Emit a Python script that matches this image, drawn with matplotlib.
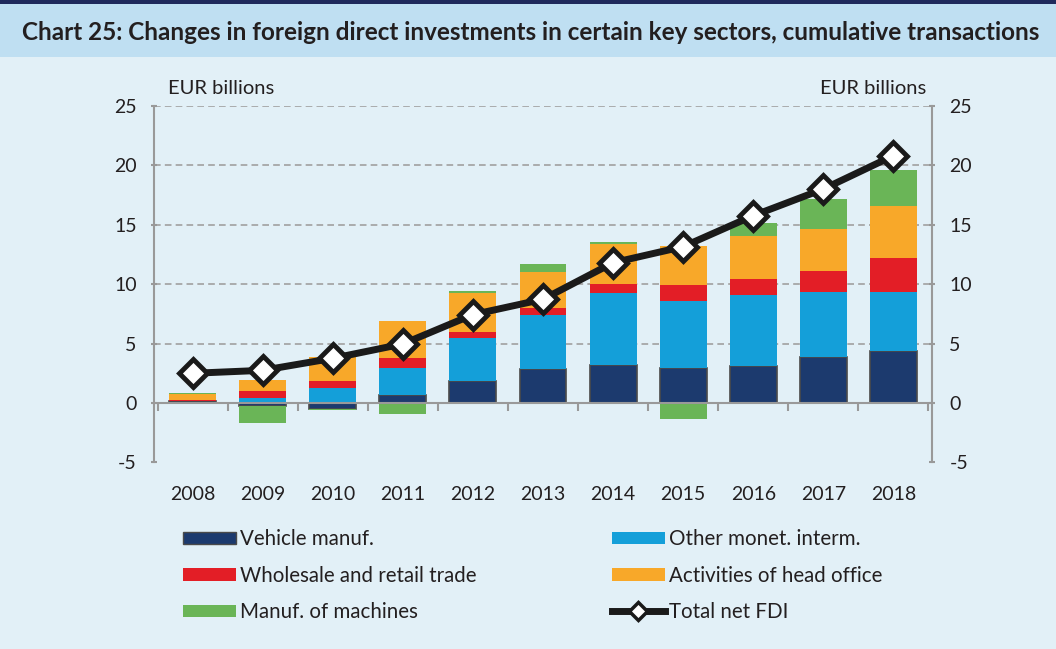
import numpy as np
import matplotlib
matplotlib.use('Agg')
import matplotlib.pyplot as plt
from matplotlib.patches import Patch, Rectangle
from matplotlib.lines import Line2D

plt.rcParams['font.family'] = ['Lato', 'DejaVu Sans']
plt.rcParams['axes.unicode_minus'] = False

years = ['2008', '2009', '2010', '2011', '2012', '2013', '2014', '2015', '2016', '2017', '2018']
vehicle = [0.15, -0.28, -0.5, 0.7, 1.83, 2.89, 3.23, 2.95, 3.09, 3.9, 4.4]
other_monet = [0.0, 0.45, 1.23, 2.24, 3.64, 4.52, 6.03, 5.61, 6.0, 5.44, 4.92]
wholesale = [0.1, 0.56, 0.59, 0.84, 0.51, 0.62, 0.73, 1.37, 1.37, 1.8, 2.91]
head_office = [0.5, 0.93, 2.05, 3.1, 3.25, 3.0, 3.39, 3.31, 3.6, 3.53, 4.33]
machines = [0.12, -1.38, -0.1, -0.95, 0.22, 0.7, 0.14, -1.32, 1.06, 2.5, 3.03]
total_fdi = [2.5, 2.75, 3.76, 4.97, 7.44, 8.73, 11.81, 13.16, 15.77, 18.01, 20.82]

series = [
    ('Vehicle manuf.', vehicle, '#1c3a6e'),
    ('Other monet. interm.', other_monet, '#149fd9'),
    ('Wholesale and retail trade', wholesale, '#e31e26'),
    ('Activities of head office', head_office, '#f8a829'),
    ('Manuf. of machines', machines, '#6ab557'),
]

bg = '#e2f0f7'
txt = '#231f20'
fig = plt.figure(figsize=(10.56, 6.49), dpi=100, facecolor=bg)

# title band
fig.patches.append(Rectangle((0, 1 - 57 / 649), 1, 53 / 649, transform=fig.transFigure,
                             facecolor='#bfdff2', edgecolor='none', zorder=0))
fig.patches.append(Rectangle((0, 1 - 4 / 649), 1, 4 / 649, transform=fig.transFigure,
                             facecolor='#1f2a5c', edgecolor='none', zorder=0))
fig.text(22 / 1056, 1 - 33 / 649, 'Chart 25: Changes in foreign direct investments in certain key sectors, '
         'cumulative transactions', fontsize=17.5, fontweight='bold', color=txt, va='center', ha='left')

ax = fig.add_axes([154 / 1056, 1 - 462.4 / 649, 778 / 1056, (462.4 - 106) / 649])
ax.set_facecolor(bg)

x = np.arange(len(years))
pos_base = np.zeros(len(years))
neg_base = np.zeros(len(years))
for name, vals, col in series:
    vals = np.array(vals)
    base = np.where(vals >= 0, pos_base, neg_base)
    ec = '#4a4a4a' if name == 'Vehicle manuf.' else 'none'
    ax.bar(x, vals, 0.67, bottom=base, color=col, edgecolor=ec, linewidth=1.2, zorder=3)
    pos_base += np.where(vals >= 0, vals, 0)
    neg_base += np.where(vals < 0, vals, 0)

ax.plot(x, total_fdi, color='#1a1a1a', linewidth=5, marker='D', markersize=14,
        markerfacecolor='white', markeredgecolor='#1a1a1a', markeredgewidth=3.5, zorder=5)

ax.set_xlim(-0.55, 10.55)
ax.set_ylim(-5, 25)
ax.set_yticks(np.arange(-5, 26, 5))
for v in range(5, 26, 5):
    ax.axhline(v, color='#a0a0a0', linestyle=(0, (4, 2.5)), linewidth=1.2, zorder=1)

gray = '#999999'
ax.spines['top'].set_visible(False)
ax.spines['bottom'].set_position(('data', 0))
for s in ['left', 'right', 'bottom']:
    ax.spines[s].set_color(gray)
    ax.spines[s].set_linewidth(1.5)
ax.spines['bottom'].set_zorder(4)

ax.set_xticks(x)
ax.set_xticklabels(years)
ax.set_xticks(np.arange(-0.5, len(years)), minor=True)
ax.tick_params(axis='x', which='major', length=0, pad=60, labelsize=14, colors=txt)
ax.tick_params(axis='x', which='minor', length=6, width=1.5, color=gray, direction='out')
ax.tick_params(axis='y', which='major', length=5, width=1.5, color=gray, direction='inout',
               labelsize=14, labelcolor=txt, right=True, labelright=True, pad=10)

fig.text(168 / 1056, 1 - 89 / 649, 'EUR billions', fontsize=14.5, color=txt, va='center', ha='left')
fig.text(926 / 1056, 1 - 89 / 649, 'EUR billions', fontsize=14.5, color=txt, va='center', ha='right')

handles = {name: Patch(facecolor=col, edgecolor='#4a4a4a' if name == 'Vehicle manuf.' else 'none')
           for name, vals, col in series}
line_h = Line2D([], [], color='#1a1a1a', linewidth=5, marker='D', markersize=9,
                markerfacecolor='white', markeredgecolor='#1a1a1a', markeredgewidth=2.5)

left_names = ['Vehicle manuf.', 'Wholesale and retail trade', 'Manuf. of machines']
right_names = ['Other monet. interm.', 'Activities of head office']
leg_kw = dict(frameon=False, fontsize=14.8, handlelength=2.55, handleheight=0.55,
              handletextpad=0.2, labelspacing=0.8, loc='upper left', borderaxespad=0)
leg1 = fig.legend([handles[n] for n in left_names], left_names,
                  bbox_to_anchor=(175 / 1056, 1 - 521 / 649), **leg_kw)
leg2 = fig.legend([handles[n] for n in right_names] + [line_h], right_names + ['Total net FDI'],
                  bbox_to_anchor=(604 / 1056, 1 - 521 / 649), **leg_kw)
for leg in (leg1, leg2):
    for t in leg.get_texts():
        t.set_color(txt)

fig.savefig('out.png', dpi=100, facecolor=bg)
